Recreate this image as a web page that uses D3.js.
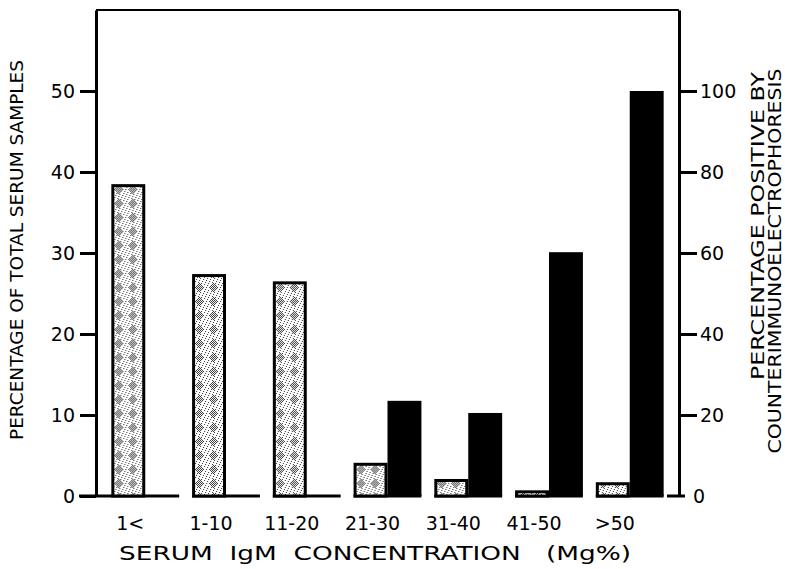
<!DOCTYPE html>
<html>
<head>
<meta charset="utf-8">
<script src="https://cdn.jsdelivr.net/npm/d3@7"></script>
<style>
  html, body { margin: 0; padding: 0; background: #fff; }
  svg { display: block; }
  text { font-family: "DejaVu Sans", sans-serif; fill: #000; }
</style>
</head>
<body>
<svg id="chart" width="785" height="569"></svg>
<script>
// ---- Data ----
const categories = ["1<", "1-10", "11-20", "21-30", "31-40", "41-50", ">50"];
const pctTotalSamples = [38.5, 27.4, 26.5, 4.1, 2.1, 0.7, 1.7];      // left axis
const pctPositiveCIE   = [0, 0, 0, 23.5, 20.5, 60.2, 100];           // right axis
const leftTicks  = [0, 10, 20, 30, 40, 50];
const rightTicks = [0, 20, 40, 60, 80, 100];
const xTitle = "SERUM  IgM  CONCENTRATION   (Mg%)";
const yLeftTitle = "PERCENTAGE OF TOTAL SERUM SAMPLES";
const yRightTitle1 = "PERCENTAGE POSITIVE BY";
const yRightTitle2 = "COUNTERIMMUNOELECTROPHORESIS";

// ---- Layout ----
const svg = d3.select("#chart");
const axL = 96, axR = 679, yTop = 10, yBase = 496;

const yL = d3.scaleLinear().domain([0, 60]).range([yBase, yTop]);
const yR = d3.scaleLinear().domain([0, 120]).range([yBase, yTop]);

const x = d3.scaleBand().domain(categories)
  .range([axL, axR]).paddingInner(0.16).paddingOuter(0.19);
const xs = d3.scaleBand().domain(["total", "positive"]).range([0, x.bandwidth()]);

// stipple pattern
const defs = svg.append("defs");
const pat = defs.append("pattern").attr("id", "stip")
  .attr("patternUnits", "userSpaceOnUse").attr("width", 14).attr("height", 14);
pat.append("rect").attr("width", 14).attr("height", 14).attr("fill", "#fff");
const dots = [];
for (let i = 0; i < 14; i++) {
  for (let j = 0; j < 14; j++) {
    const dx = Math.abs(i - 7), dy = Math.abs(j - 7);
    const inDiamond = dx + dy <= 5;
    if (inDiamond && (i + j) % 2 === 0) dots.push([i, j]);
    else if (!inDiamond && (i * 3 + j * 5) % 7 === 0) dots.push([i, j]);
  }
}
pat.selectAll("rect.d").data(dots).join("rect").attr("class", "d")
  .attr("x", d => d[0]).attr("y", d => d[1]).attr("width", 1).attr("height", 1)
  .attr("fill", "#333");

// top frame line
svg.append("line").attr("x1", axL).attr("x2", axR).attr("y1", yTop).attr("y2", yTop)
  .attr("stroke", "#000").attr("stroke-width", 2);

// baseline segments per group
svg.append("line").attr("x1", 79).attr("x2", x(categories[0]) + 1)
  .attr("y1", yBase).attr("y2", yBase).attr("stroke", "#000").attr("stroke-width", 3);
svg.selectAll("line.base").data(categories).join("line").attr("class", "base")
  .attr("x1", d => x(d)).attr("x2", d => x(d) + x.bandwidth())
  .attr("y1", yBase).attr("y2", yBase).attr("stroke", "#000").attr("stroke-width", 3);
svg.append("line").attr("x1", axR - 12).attr("x2", axR + 6)
  .attr("y1", yBase).attr("y2", yBase).attr("stroke", "#000").attr("stroke-width", 3);

// bars
const groups = svg.selectAll("g.grp").data(categories).join("g").attr("class", "grp")
  .attr("transform", d => `translate(${x(d)},0)`);

groups.append("rect")
  .attr("x", xs("total") + 1.5)
  .attr("width", xs.bandwidth() - 3)
  .attr("y", (d, i) => yL(pctTotalSamples[i]) + 1.5)
  .attr("height", (d, i) => Math.max(0, yBase - yL(pctTotalSamples[i]) - 1.5))
  .attr("fill", "url(#stip)").attr("stroke", "#000").attr("stroke-width", 3);

groups.filter((d, i) => pctPositiveCIE[i] > 0).append("rect")
  .attr("x", xs("positive"))
  .attr("width", xs.bandwidth())
  .attr("y", d => yR(pctPositiveCIE[categories.indexOf(d)]))
  .attr("height", d => yBase - yR(pctPositiveCIE[categories.indexOf(d)]))
  .attr("fill", "#000");

// left axis
const gL = svg.append("g").attr("transform", `translate(${axL},0)`)
  .call(d3.axisLeft(yL).tickValues(leftTicks).tickSize(16).tickSizeOuter(0).tickPadding(5));
gL.select(".domain").attr("stroke-width", 3);
gL.selectAll(".tick line").attr("stroke-width", 3);
gL.selectAll(".tick text").attr("font-size", 19).attr("font-family", "DejaVu Sans").attr("fill", "#000");

// right axis
const gR = svg.append("g").attr("transform", `translate(${axR},0)`)
  .call(d3.axisRight(yR).tickValues(rightTicks).tickSize(18).tickSizeOuter(0).tickPadding(3));
gR.select(".domain").attr("stroke-width", 3);
gR.selectAll(".tick line").attr("stroke-width", 3).attr("stroke", d => d === 0 ? "none" : "#000");
gR.selectAll(".tick text").attr("font-size", 19).attr("font-family", "DejaVu Sans").attr("fill", "#000")
  .attr("x", d => d === 0 ? 14 : 21);

// category labels
svg.selectAll("text.cat").data(categories).join("text").attr("class", "cat")
  .attr("x", d => x(d) + xs("total") + xs.bandwidth() / 2 + 2)
  .attr("y", 530).attr("text-anchor", "middle").attr("font-size", 19)
  .text(d => d);

// axis titles
svg.append("text").attr("x", 375).attr("y", 560).attr("text-anchor", "middle")
  .attr("font-size", 20).attr("textLength", 512).attr("lengthAdjust", "spacingAndGlyphs")
  .attr("xml:space", "preserve").style("white-space", "pre")
  .text(xTitle);

svg.append("text").attr("transform", "translate(23,250) rotate(-90)")
  .attr("text-anchor", "middle").attr("font-size", 18)
  .attr("textLength", 380).attr("lengthAdjust", "spacingAndGlyphs")
  .text(yLeftTitle);

svg.append("text").attr("transform", "translate(764,226) rotate(-90)")
  .attr("text-anchor", "middle").attr("font-size", 17)
  .attr("textLength", 308).attr("lengthAdjust", "spacingAndGlyphs")
  .text(yRightTitle1);

svg.append("text").attr("transform", "translate(781,261) rotate(-90)")
  .attr("text-anchor", "middle").attr("font-size", 17)
  .attr("textLength", 385).attr("lengthAdjust", "spacingAndGlyphs")
  .text(yRightTitle2);
</script>
</body>
</html>
